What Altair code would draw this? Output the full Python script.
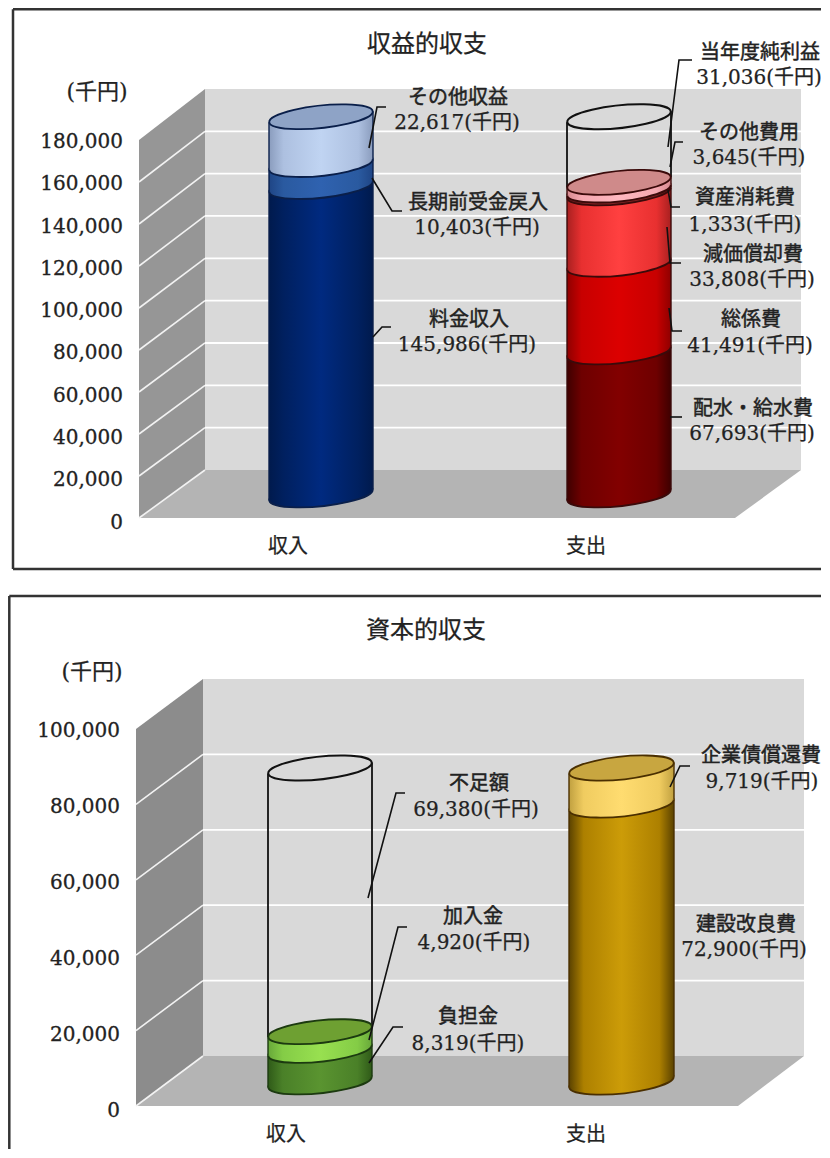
import math
import altair as alt
import pandas as pd

# ---------- chart values ----------
CATEGORIES = ["収入", "支出"]
P1_TITLE = "収益的収支"
P1_TICKS = [0, 20000, 40000, 60000, 80000, 100000, 120000, 140000, 160000, 180000]
P1_INCOME_NAMES = ["料金収入", "長期前受金戻入", "その他収益"]
P1_INCOME_VALUES = [145986, 10403, 22617]
P1_EXPENSE_NAMES = ["配水・給水費", "総係費", "減価償却費", "資産消耗費", "その他費用", "当年度純利益"]
P1_EXPENSE_VALUES = [67693, 41491, 33808, 1333, 3645, 31036]

P2_TITLE = "資本的収支"
P2_TICKS = [0, 20000, 40000, 60000, 80000, 100000]
P2_INCOME_NAMES = ["負担金", "加入金", "不足額"]
P2_INCOME_VALUES = [8319, 4920, 69380]
P2_EXPENSE_NAMES = ["建設改良費", "企業債償還費"]
P2_EXPENSE_VALUES = [72900, 9719]

UNIT = "(千円)"

# ---------- styles (edge, mid, light) ----------
RED = [("#3e0000", "#6e0000", "#820000"), ("#8f0000", "#c80000", "#dc0000"),
       ("#a82020", "#e83030", "#ff4040"), ("#5a1818", "#7a2020", "#8a2828"),
       ("#d88a90", "#f4a8b0", "#ffb8c0"), None]
BLUE = [("#001a4d", "#00205f", "#002a80"), ("#1f4585", "#2a5aa0", "#2f62b0"),
        ("#8a9cbd", "#adc0e0", "#c0d4f2")]
GREEN = [("#2f5a18", "#4a8028", "#5a9430"), ("#68a83a", "#84cc46", "#98e050"), None]
GOLD = [("#5a4200", "#ad8000", "#cc9c08"), ("#c0a040", "#f0cc60", "#ffdc70")]

FONT = "DejaVu Serif, Noto Sans CJK JP"
TEXT = "#222222"
THETA = math.radians(6)
RY = 0.215
C, S = math.cos(THETA), math.sin(THETA)
ELLIPSE = f"M{-C:.4f},{S:.4f}A1,{RY} -6 1 1 {C:.4f},{-S:.4f}A1,{RY} -6 1 1 {-C:.4f},{S:.4f}Z"
PLOT_LEFT = 8
PLOT_RIGHT = 822
TEXT_DY = 2.5


def gradient(edge, mid, light):
    return alt.Gradient(
        gradient="linear", x1=0, x2=1, y1=0, y2=0,
        stops=[alt.GradientStop(color=edge, offset=0), alt.GradientStop(color=mid, offset=0.14),
               alt.GradientStop(color=light, offset=0.5), alt.GradientStop(color=mid, offset=0.86),
               alt.GradientStop(color=edge, offset=1)])


def panel(cfg):
    top, height = cfg["top"], cfg["height"]
    s = cfg["scale"]
    zero = cfg["zero_px"]

    def val(px):
        return (zero - px) / s * 1000

    xs = alt.Scale(domain=[PLOT_LEFT, PLOT_RIGHT], range=[0, PLOT_RIGHT - PLOT_LEFT], nice=False, zero=False)
    ys = alt.Scale(domain=[val(top + height), val(top)], range=[height, 0], nice=False, zero=False)
    X = alt.X("x:Q", scale=xs, axis=None)
    Y = alt.Y("y:Q", scale=ys, axis=None)
    Y2 = alt.Y2("y2:Q")
    layers = []

    def area(pts, fill):
        d = pd.DataFrame([{"x": a, "y": b, "y2": c} for a, b, c in pts])
        layers.append(alt.Chart(d).mark_area(fill=fill, stroke=None).encode(x=X, y=Y, y2=Y2))

    def line(pts, color, w):
        d = pd.DataFrame([{"x": a, "y": b, "i": i} for i, (a, b) in enumerate(pts)])
        layers.append(alt.Chart(d).mark_line(color=color, strokeWidth=w).encode(
            x=X, y=Y, order=alt.Order("i:Q")))

    ticks = cfg["ticks"]

    # frame
    fx, ft, fb = cfg["frame"]
    line([(fx, val(ft)), (fx, val(fb))], "#333333", 2.5)
    line([(fx, val(ft)), (PLOT_RIGHT, val(ft))], "#333333", 2.5)
    if cfg["frame_bottom"]:
        line([(fx, val(fb)), (PLOT_RIGHT, val(fb))], "#333333", 2.5)

    # walls
    lx, bx, rx, fr = cfg["lx"], cfg["bx"], cfg["rx"], cfg["fr"]
    front0, back0 = cfg["front0"], cfg["back0"]
    sf, sb = cfg["sf"], cfg["sb"]
    vmax = ticks[-1]
    fp = lambda v: val(front0 - v / 1000 * sf)
    bp = lambda v: val(back0 - v / 1000 * sb)
    area([(bx, bp(vmax), bp(0)), (rx, bp(vmax), bp(0))], "#d9d9d9")
    area([(lx, fp(vmax), fp(0)), (bx, bp(vmax), bp(0))], cfg["wall"])
    area([(lx, fp(0), fp(0)), (bx, bp(0), fp(0)), (fr, bp(0), fp(0)), (rx, bp(0), bp(0))], "#b4b4b4")
    for t in ticks[:-1]:
        line([(lx, fp(t)), (bx, bp(t))], "#f2f2f2", 1.6)
        if t > 0:
            line([(bx, bp(t)), (rx, bp(t))], "#ffffff", 1.8)

    # cylinders
    tilt = S / s * 1000
    for col in cfg["columns"]:
        cx, r = col["cx"], col["rx"]
        size = (2 * r) ** 2
        base = val(col["base_px"])
        dv = tilt * r
        ink = col["ink"]

        def ell(v, fill, stroke, w=1.5):
            d = pd.DataFrame([{"x": cx, "y": v}])
            layers.append(alt.Chart(d).mark_point(
                shape=ELLIPSE, size=size, filled=True, fill=fill, stroke=stroke,
                strokeWidth=w, opacity=1).encode(x=X, y=Y))

        v0 = base
        for value, sty in zip(col["values"], col["styles"]):
            v1 = v0 + value
            if sty is not None:
                g = gradient(*sty)
                ell(v0, g, ink, 1.8)
                area([(cx - r, v1 - dv, v0 - dv), (cx + r, v1 + dv, v0 + dv)], g)
                line([(cx - r, v0 - dv), (cx - r, v1 - dv)], ink, 1.4)
                line([(cx + r, v0 + dv), (cx + r, v1 + dv)], ink, 1.4)
                last = v1
            else:
                line([(cx - r, v0 - dv), (cx - r, v1 - dv)], "#111111", 1.8)
                line([(cx + r, v0 + dv), (cx + r, v1 + dv)], "#111111", 1.8)
            v0 = v1
        if col["cap"]:
            ell(last, col["cap"], ink, 1.8)
        if col["open_top"]:
            ell(v0, col["open_top"], "#111111", 2)

    # leader lines
    for pts in cfg["leaders"]:
        line([(a, val(b)) for a, b in pts], "#111111", 1.6)

    # y tick labels, placed by the y scale
    tk = pd.DataFrame({"y": ticks, "x": [cfg["axis_x"]] * len(ticks), "t": [f"{t:,}" for t in ticks]})
    layers.append(alt.Chart(tk).mark_text(
        font=FONT, fontSize=cfg["axis_fs"], color=TEXT, stroke=TEXT, strokeWidth=0.3,
        align="right", baseline="middle", dy=TEXT_DY
    ).encode(x=X, y=Y, text="t:N"))

    # texts
    td = pd.DataFrame([{"x": x, "y": val(y), "t": txt, "fs": fs, "b": b} for txt, x, y, fs, b in cfg["texts"]])
    for (fs, b), part in td.groupby(["fs", "b"]):
        layers.append(alt.Chart(part).mark_text(
            font=FONT, fontSize=float(fs), color=TEXT, stroke=TEXT, strokeWidth=0.45 if b else 0.25,
            align="center", baseline="middle", dy=TEXT_DY
        ).encode(x=X, y=Y, text="t:N"))

    return alt.layer(*layers).properties(width=PLOT_RIGHT - PLOT_LEFT, height=height)


def lab(name, value, x1, y1, x2, y2):
    return [(name, x1, y1, 20, 1), (f"{value:,}{UNIT}", x2, y2, 20, 0)]


I1, E1 = dict(zip(P1_INCOME_NAMES, P1_INCOME_VALUES)), dict(zip(P1_EXPENSE_NAMES, P1_EXPENSE_VALUES))
I2, E2 = dict(zip(P2_INCOME_NAMES, P2_INCOME_VALUES)), dict(zip(P2_EXPENSE_NAMES, P2_EXPENSE_VALUES))

cfg1 = dict(
    top=8, height=582, scale=2.113, zero_px=520, frame=(13, 9.3, 569), frame_bottom=True,
    lx=139, bx=205, rx=801, fr=735, front0=518, back0=470, sf=2.1, sb=2.117, wall="#969696",
    ticks=P1_TICKS, axis_fs=20, axis_x=123,
    columns=[
        dict(cx=321, rx=52, base_px=495, values=P1_INCOME_VALUES, styles=BLUE, ink="#0a1f4a",
             cap="#8ea3c6", open_top=None),
        dict(cx=619, rx=52, base_px=495, values=P1_EXPENSE_VALUES, styles=RED, ink="#3a0a0a",
             cap="#cf8a8a", open_top="transparent"),
    ],
    leaders=[
        [(369, 148), (377, 107), (386, 107)],
        [(372, 178), (392, 211), (402, 211)],
        [(373, 337), (382, 327), (391, 327)],
        [(668, 147), (679, 60), (692, 60)],
        [(670, 167), (675, 142), (683, 142)],
        [(668, 190), (671, 207), (680, 207)],
        [(667, 227), (670, 263), (681, 263)],
        [(669, 308), (672, 331), (682, 331)],
        [(670, 417), (682, 417)],
    ],
    texts=[(P1_TITLE, 427, 42, 24, 0), (UNIT, 97, 89, 22, 0),
           (CATEGORIES[0], 288, 544, 20, 0), (CATEGORIES[1], 586, 544, 20, 0)]
    + lab("その他収益", I1["その他収益"], 458, 95, 457, 120)
    + lab("長期前受金戻入", I1["長期前受金戻入"], 478, 200, 477, 225)
    + lab("料金収入", I1["料金収入"], 469, 317, 467, 342)
    + lab("当年度純利益", E1["当年度純利益"], 760, 50, 759, 75)
    + lab("その他費用", E1["その他費用"], 749, 130, 749, 155)
    + lab("資産消耗費", E1["資産消耗費"], 745, 195, 745, 222)
    + lab("減価償却費", E1["減価償却費"], 753, 252, 752, 277)
    + lab("総係費", E1["総係費"], 751, 317, 750, 343)
    + lab("配水・給水費", E1["配水・給水費"], 753, 406, 752, 431),
)

cfg2 = dict(
    top=590, height=560, scale=3.8, zero_px=1108, frame=(9.3, 596, 1150), frame_bottom=False,
    lx=136, bx=203, rx=804, fr=738, front0=1106, back0=1056, sf=3.77, sb=3.77, wall="#8c8c8c",
    ticks=P2_TICKS, axis_fs=20, axis_x=120,
    columns=[
        dict(cx=320, rx=52, base_px=1082, values=P2_INCOME_VALUES, styles=GREEN, ink="#1c3a10",
             cap="#6ea032", open_top="transparent"),
        dict(cx=621.5, rx=52.5, base_px=1082, values=P2_EXPENSE_VALUES, styles=GOLD, ink="#4a2f00",
             cap="#c8a640", open_top=None),
    ],
    leaders=[
        [(368, 898), (396, 793), (405, 793)],
        [(369, 1040), (398, 927), (407, 927)],
        [(369, 1063), (393, 1027), (403, 1027)],
        [(670, 787), (680, 766), (690, 766)],
    ],
    texts=[(P2_TITLE, 426, 628, 24, 0), (UNIT, 92, 669, 22, 0),
           (CATEGORIES[0], 286, 1132, 20, 0), (CATEGORIES[1], 586, 1132, 20, 0)]
    + lab("不足額", I2["不足額"], 479, 781, 476, 807)
    + lab("加入金", I2["加入金"], 473, 914, 474, 940)
    + lab("負担金", I2["負担金"], 468, 1014, 468, 1041)
    + lab("企業債償還費", E2["企業債償還費"], 761, 753, 762, 779)
    + lab("建設改良費", E2["建設改良費"], 746, 922, 744, 947),
)

chart = alt.vconcat(panel(cfg1), panel(cfg2), spacing=0).properties(
    padding={"left": -4, "right": -6, "top": -4, "bottom": -6}
).configure_view(stroke=None).configure_concat(spacing=0)
chart.save("out.html", embed_options={"renderer": "svg", "actions": False})
